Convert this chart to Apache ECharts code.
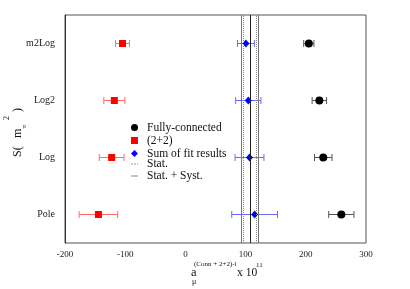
<!DOCTYPE html>
<html>
<head>
<meta charset="utf-8">
<script src="https://cdn.jsdelivr.net/npm/echarts@6/dist/echarts.min.js"></script>
<style>html,body{margin:0;padding:0;background:#fff}#c{width:410px;height:289px}</style>
</head>
<body>
<div id="c"></div>
<script>
var categories = ['Pole', 'Log', 'Log2', 'm2Log'];
var xTicks = [-200, -100, 0, 100, 200, 300];
var fullyConnected = [259, 229, 222.5, 205];
var fullyConnectedErr = [21, 14.5, 12, 8.5];
var twoPlusTwo = [-144.5, -122.5, -118, -104.5];
var twoPlusTwoErr = [32, 20.5, 17.5, 11.5];
var sumFit = [115, 106.5, 104.5, 100.5];
var sumFitErr = [38, 24, 21, 14];
var bandCenter = [107.5];
var bandStat = [11];
var bandTotal = [14];

var FONT = 'Liberation Serif';

function pts(vals) { return vals.map(function (v, i) { return [v, i]; }); }
function errs(vals, e) { return vals.map(function (v, i) { return [v - e[i], i, v + e[i]]; }); }

function errRender(color) {
  return function (params, api) {
    var lo = api.coord([api.value(0), api.value(1)]);
    var hi = api.coord([api.value(2), api.value(1)]);
    var h = 3.5;
    var st = { stroke: color, lineWidth: 1 };
    return {
      type: 'group',
      children: [
        { type: 'line', shape: { x1: lo[0], y1: lo[1], x2: hi[0], y2: hi[1] }, style: st },
        { type: 'line', shape: { x1: lo[0], y1: lo[1] - h, x2: lo[0], y2: lo[1] + h }, style: st },
        { type: 'line', shape: { x1: hi[0], y1: hi[1] - h, x2: hi[0], y2: hi[1] + h }, style: st }
      ]
    };
  };
}

var chart = echarts.init(document.getElementById('c'));
var option = {
  animation: false,
  backgroundColor: '#fff',
  textStyle: { fontFamily: FONT },
  grid: { left: 65, right: 44, top: 15, bottom: 46, show: true, borderColor: '#555', borderWidth: 1, backgroundColor: 'transparent' },
  xAxis: {
    type: 'value', min: xTicks[0], max: xTicks[xTicks.length - 1], interval: 100,
    axisLine: { onZero: false, lineStyle: { color: '#333' } },
    axisTick: { inside: true, length: 5, lineStyle: { color: '#333' } },
    axisLabel: { fontFamily: FONT, fontSize: 9, color: '#222', margin: 7 },
    splitLine: { show: false }
  },
  yAxis: {
    type: 'category', data: categories, boundaryGap: true,
    axisLine: { onZero: false, lineStyle: { color: '#333' } },
    axisTick: { alignWithLabel: true, length: 7, lineStyle: { color: '#333' } },
    axisLabel: { fontFamily: FONT, fontSize: 10, color: '#222', margin: 10 },
    splitLine: { show: false }
  },
  legend: [
    {
      orient: 'vertical', left: 131, top: 121, padding: 0, itemWidth: 7, itemHeight: 7, itemGap: 0,
      textStyle: { fontFamily: FONT, fontSize: 11.5, color: '#111', lineHeight: 13, padding: [0, 0, 0, 4] },
      data: [
        { name: 'Fully-connected', icon: 'circle' },
        { name: '(2+2)', icon: 'rect' },
        { name: 'Sum of fit results', icon: 'diamond' }
      ]
    },
    {
      orient: 'vertical', left: 131, top: 158, padding: 0, itemWidth: 7, itemHeight: 1, itemGap: 0,
      textStyle: { fontFamily: FONT, fontSize: 11.5, color: '#111', lineHeight: 11, padding: [0, 0, 0, 4] },
      data: [
        { name: 'Stat.', icon: 'path://M0,0h2v1h-2z M3,0h2v1h-2z M6,0h1v1h-1z', itemStyle: { color: '#999' } },
        { name: 'Stat. + Syst.', icon: 'rect', itemStyle: { color: '#888' } }
      ]
    }
  ],
  series: [
    {
      name: 'Stat.', type: 'line', data: [], symbol: 'none', color: '#999',
      lineStyle: { color: '#999', type: 'dotted', width: 1 }, z: 1,
      markLine: {
        silent: true, symbol: ['none', 'none'], label: { show: false },
        lineStyle: { color: '#888', type: 'dotted', width: 1 },
        data: [{ xAxis: bandCenter[0] - bandStat[0] }, { xAxis: bandCenter[0] + bandStat[0] }]
      }
    },
    {
      name: 'Stat. + Syst.', type: 'line', data: [], symbol: 'none', color: '#888',
      lineStyle: { color: '#888', type: 'solid', width: 1 }, z: 1,
      markLine: {
        silent: true, symbol: ['none', 'none'], label: { show: false },
        lineStyle: { color: '#777', type: 'solid', width: 1 },
        data: [
          { xAxis: bandCenter[0] - bandTotal[0] },
          { xAxis: bandCenter[0] + bandTotal[0] },
          { xAxis: bandCenter[0], lineStyle: { color: '#222', type: 'solid', width: 1 } }
        ]
      }
    },
    { type: 'custom', renderItem: errRender('#555'), data: errs(fullyConnected, fullyConnectedErr), encode: { x: [0, 2], y: 1 }, z: 3, silent: true },
    { type: 'custom', renderItem: errRender('#ff6a6a'), data: errs(twoPlusTwo, twoPlusTwoErr), encode: { x: [0, 2], y: 1 }, z: 3, silent: true },
    { type: 'custom', renderItem: errRender('#6a6aff'), data: errs(sumFit, sumFitErr), encode: { x: [0, 2], y: 1 }, z: 3, silent: true },
    { name: 'Fully-connected', type: 'scatter', symbol: 'circle', symbolSize: 8, data: pts(fullyConnected), itemStyle: { color: '#000', opacity: 1 }, z: 4 },
    { name: '(2+2)', type: 'scatter', symbol: 'rect', symbolSize: 7, data: pts(twoPlusTwo), itemStyle: { color: '#ff0000', opacity: 1 }, z: 4 },
    { name: 'Sum of fit results', type: 'scatter', symbol: 'diamond', symbolSize: [7, 8], data: pts(sumFit), itemStyle: { color: '#0000ff', opacity: 1 }, z: 4 }
  ],
  graphic: [
    {
      type: 'group', x: 18, y: 131, rotation: Math.PI / 2,
      children: [
        { type: 'text', x: -26, y: 0, style: { text: 'S(', font: '12px "Liberation Serif"', fill: '#111', verticalAlign: 'middle', align: 'left' } },
        { type: 'text', x: -7, y: 0, style: { text: 'm', font: '12px "Liberation Serif"', fill: '#111', verticalAlign: 'middle', align: 'left' } },
        { type: 'text', x: 2.5, y: 6, style: { text: 'π', font: '7px "Liberation Serif"', fill: '#111', verticalAlign: 'middle', align: 'left' } },
        { type: 'text', x: 11, y: -11, style: { text: '2', font: '8px "Liberation Serif"', fill: '#111', verticalAlign: 'middle', align: 'left' } },
        { type: 'text', x: 19, y: 0, style: { text: ')', font: '12px "Liberation Serif"', fill: '#111', verticalAlign: 'middle', align: 'left' } }
      ]
    },
    { type: 'text', x: 191, y: 272.5, style: { text: 'a', font: '12.5px "Liberation Serif"', fill: '#111', verticalAlign: 'middle', align: 'left' } },
    { type: 'text', x: 192, y: 282, style: { text: 'μ', font: '8px "Liberation Serif"', fill: '#111', verticalAlign: 'middle', align: 'left' } },
    { type: 'text', x: 194, y: 264, style: { text: '(Conn + 2+2)-l', font: '7px "Liberation Serif"', fill: '#111', verticalAlign: 'middle', align: 'left' } },
    { type: 'text', x: 237, y: 272.5, style: { text: 'x 10', font: '11.5px "Liberation Serif"', fill: '#111', verticalAlign: 'middle', align: 'left' } },
    { type: 'text', x: 256, y: 265, style: { text: '11', font: '7px "Liberation Serif"', fill: '#111', verticalAlign: 'middle', align: 'left' } }
  ]
};
chart.setOption(option);
</script>
</body>
</html>
